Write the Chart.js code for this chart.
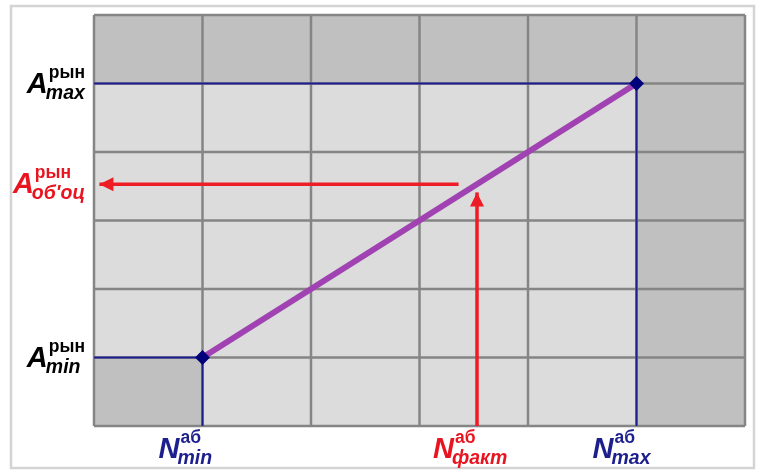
<!DOCTYPE html>
<html><head><meta charset="utf-8">
<script src="https://cdn.jsdelivr.net/npm/chart.js@4"></script>
<style>html,body{margin:0;padding:0;background:#fff}</style>
</head><body>
<canvas id="c" width="758" height="470"></canvas>
<script>
// grid extent (units)
const gridMin = 0, gridMax = 6;
// key values on the N axis (x) and A axis (y)
const nMin = 1, nMax = 5, nFact = 3.53;
const aMin = 1, aMax = 5, aEst = 3.53;
// main line between (nMin, aMin) and (nMax, aMax)
const lineX = [nMin, nMax];
const lineY = [aMin, aMax];
// red arrows: horizontal (from line towards A axis) and vertical (from N axis up to line)
const arrowHX = [3.36, 0.05];
const arrowHY = [aEst, aEst];
const arrowVX = [nFact, nFact];
const arrowVY = [0, 3.41];
// dark cells: [x0, x1, y0, y1]
const darkCells = [[0, 6, 5, 6], [5, 6, 0, 5], [0, 1, 0, 1]];
// tick labels
const yTickValues = [aMax, aEst, aMin];
const yTickMain = ['A', 'A', 'A'];
const yTickSup = ['рын', 'рын', 'рын'];
const yTickSub = ['max', "об'оц", 'min'];
const yTickColor = ['#000000', '#e8141f', '#000000'];
const xTickValues = [nMin, nFact, nMax];
const xTickMain = ['N', 'N', 'N'];
const xTickSup = ['аб', 'аб', 'аб'];
const xTickSub = ['min', 'факт', 'max'];
const xTickColor = ['#1c1f8c', '#e8141f', '#1c1f8c'];

const pts = (xs, ys) => xs.map((x, i) => ({x, y: ys[i]}));

const FONT = '"Liberation Sans", Arial, sans-serif';
const fMain = 'italic bold 29px ' + FONT;
const fSup = 'bold 17.5px ' + FONT;
const fSub = 'italic bold 19.5px ' + FONT;

function drawLabel(ctx, main, sup, sub, color, x, baseline, align) {
  ctx.save();
  ctx.fillStyle = color;
  ctx.textBaseline = 'alphabetic';
  ctx.textAlign = 'left';
  ctx.font = fMain; const wm = ctx.measureText(main).width;
  ctx.font = fSup; const ws = ctx.measureText(sup).width;
  ctx.font = fSub; const wb = ctx.measureText(sub).width;
  const supOff = wm + 1, subOff = wm - 2;
  const total = Math.max(supOff + ws, subOff + wb);
  let x0 = x;
  if (align === 'right') x0 = x - total;
  if (align === 'mainRight') x0 = x - wm;
  ctx.font = fMain; ctx.fillText(main, x0, baseline);
  ctx.font = fSup; ctx.fillText(sup, x0 + supOff, baseline - 15);
  ctx.font = fSub; ctx.fillText(sub, x0 + subOff, baseline + 6);
  ctx.restore();
}

const bgPlugin = {
  id: 'bg',
  beforeDraw(chart) {
    const {ctx, chartArea: a, scales: {x, y}} = chart;
    ctx.save();
    ctx.fillStyle = '#ffffff';
    ctx.fillRect(0, 0, chart.width, chart.height);
    ctx.strokeStyle = '#d4d4d4';
    ctx.lineWidth = 2.5;
    ctx.strokeRect(11, 6, 743, 462);
    ctx.fillStyle = '#dcdcdc';
    ctx.fillRect(a.left, a.top, a.right - a.left, a.bottom - a.top);
    ctx.fillStyle = '#c0c0c0';
    darkCells.forEach(([x0, x1, y0, y1]) => {
      const px0 = x.getPixelForValue(x0), px1 = x.getPixelForValue(x1);
      const py0 = y.getPixelForValue(y0), py1 = y.getPixelForValue(y1);
      ctx.fillRect(px0, py1, px1 - px0, py0 - py1);
    });
    ctx.strokeStyle = '#858585';
    ctx.lineWidth = 2.5;
    for (let i = gridMin; i <= gridMax; i++) {
      const px = x.getPixelForValue(i);
      ctx.beginPath(); ctx.moveTo(px, a.top); ctx.lineTo(px, a.bottom); ctx.stroke();
      const py = y.getPixelForValue(i);
      ctx.beginPath(); ctx.moveTo(a.left, py); ctx.lineTo(a.right, py); ctx.stroke();
    }
    ctx.restore();
    // labels
    const c2 = chart.ctx;
    yTickValues.forEach((v, i) => {
      drawLabel(c2, yTickMain[i], yTickSup[i], yTickSub[i], yTickColor[i], a.left - 9, y.getPixelForValue(v) + 9, 'right');
    });
    xTickValues.forEach((v, i) => {
      drawLabel(c2, xTickMain[i], xTickSup[i], xTickSub[i], xTickColor[i], x.getPixelForValue(v) - 23, a.bottom + 32, 'mainRight');
    });
  },
  afterDatasetsDraw(chart) {
    const ctx = chart.ctx;
    chart.data.datasets.forEach((ds, i) => {
      if (!ds.arrow) return;
      const d = chart.getDatasetMeta(i).data;
      const p1 = d[d.length - 2], p2 = d[d.length - 1];
      const ang = Math.atan2(p2.y - p1.y, p2.x - p1.x);
      const L = 14, W = 7;
      ctx.save();
      ctx.fillStyle = ds.borderColor;
      ctx.translate(p2.x, p2.y); ctx.rotate(ang);
      ctx.beginPath(); ctx.moveTo(0, 0); ctx.lineTo(-L, -W); ctx.lineTo(-L, W); ctx.closePath(); ctx.fill();
      ctx.restore();
    });
  }
};

new Chart(document.getElementById('c'), {
  type: 'scatter',
  data: {
    datasets: [
      {data: pts(lineX, lineY), showLine: true, borderColor: '#a142b3', borderWidth: 6,
       pointStyle: 'rectRot', pointRadius: 7.5, pointBackgroundColor: '#00007a', pointBorderColor: '#00007a', pointBorderWidth: 0, order: 0},
      {data: pts([gridMin, nMax, nMax], [aMax, aMax, gridMin]), showLine: true, borderColor: '#1c1f8c', borderWidth: 2, pointRadius: 0, order: 2},
      {data: pts([gridMin, nMin, nMin], [aMin, aMin, gridMin]), showLine: true, borderColor: '#1c1f8c', borderWidth: 2, pointRadius: 0, order: 2},
      {data: pts(arrowHX, arrowHY), showLine: true, borderColor: '#ee1c25', borderWidth: 3.5, pointRadius: 0, arrow: true, order: 1},
      {data: pts(arrowVX, arrowVY), showLine: true, borderColor: '#ee1c25', borderWidth: 3.5, pointRadius: 0, arrow: true, order: 1}
    ]
  },
  options: {
    responsive: false, animation: false,
    layout: {padding: {left: 94, top: 15, right: 13, bottom: 44}},
    plugins: {legend: {display: false}, tooltip: {enabled: false}},
    scales: {
      x: {type: 'linear', min: gridMin, max: gridMax, display: false},
      y: {type: 'linear', min: gridMin, max: gridMax, display: false}
    },
    elements: {line: {tension: 0, borderCapStyle: 'butt'}},
    clip: false
  },
  plugins: [bgPlugin]
});
</script>
</body></html>
